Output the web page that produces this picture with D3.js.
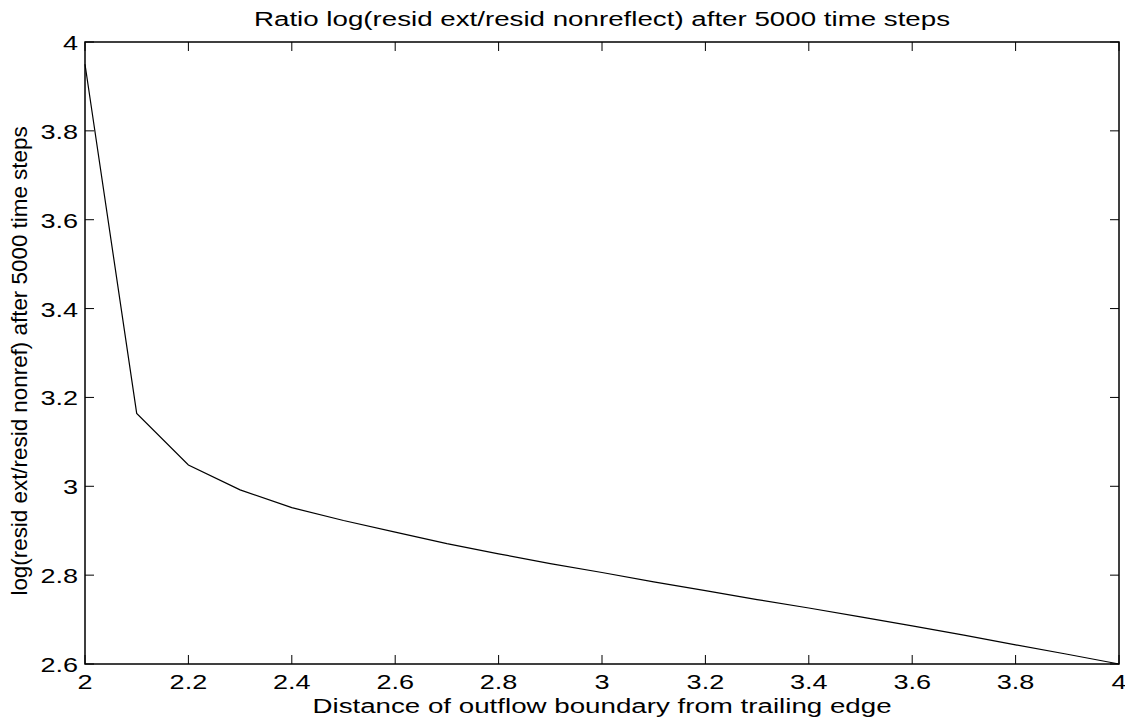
<!DOCTYPE html>
<html lang="en">
<head>
<meta charset="UTF-8">
<title>Ratio log</title>
<script src="https://d3js.org/d3.v7.min.js"></script>
<style>
  body { margin: 0; background: #fff; }
  text { font-family: "Liberation Sans", Arial, sans-serif; fill: #000; }
</style>
</head>
<body>
<script>
// data
const distance = [2.0, 2.1, 2.2, 2.3, 2.4, 2.5, 2.6, 2.7, 2.8, 2.9, 3.0, 3.1, 3.2, 3.3, 3.4, 3.5, 3.6, 3.7, 3.8, 3.9, 4.0];
const ratio = [3.95, 3.164, 3.048, 2.992, 2.952, 2.923, 2.897, 2.871, 2.848, 2.826, 2.806, 2.785, 2.765, 2.745, 2.726, 2.706, 2.686, 2.665, 2.643, 2.622, 2.6];
const xTicks = [2, 2.2, 2.4, 2.6, 2.8, 3, 3.2, 3.4, 3.6, 3.8, 4];
const yTicks = [2.6, 2.8, 3, 3.2, 3.4, 3.6, 3.8, 4];

const w = 1125, h = 719;
const pL = 85, pR = 1119, pT = 42, pB = 664;
const sx = 1.32; // the reference text is stretched sideways

const svg = d3.select('body').append('svg')
    .attr('width', w)
    .attr('height', h);

const x = d3.scaleLinear().domain([2, 4]).range([pL, pR]);
const y = d3.scaleLinear().domain([2.6, 4]).range([pB, pT]);

// ticks pointing inward, on all four sides
const tickLen = 9;
const g = svg.append('g').attr('stroke', '#000').attr('stroke-width', 1);
xTicks.forEach(t => {
    g.append('line').attr('x1', x(t)).attr('x2', x(t)).attr('y1', pB).attr('y2', pB - tickLen);
    g.append('line').attr('x1', x(t)).attr('x2', x(t)).attr('y1', pT).attr('y2', pT + tickLen);
});
yTicks.forEach(t => {
    g.append('line').attr('x1', pL).attr('x2', pL + tickLen).attr('y1', y(t)).attr('y2', y(t));
    g.append('line').attr('x1', pR).attr('x2', pR - tickLen).attr('y1', y(t)).attr('y2', y(t));
});

// frame
svg.append('rect')
    .attr('x', pL).attr('y', pT)
    .attr('width', pR - pL).attr('height', pB - pT)
    .attr('fill', 'none').attr('stroke', '#000').attr('stroke-width', 1.5);

// tick labels
svg.selectAll('.xl').data(xTicks).enter().append('text')
    .attr('transform', d => `translate(${x(d)}, ${pB + 25}) scale(${sx}, 1)`)
    .attr('text-anchor', 'middle')
    .style('font-size', '20.5px')
    .text(d => d3.format('~g')(d));
svg.selectAll('.yl').data(yTicks).enter().append('text')
    .attr('transform', d => `translate(${pL - 7}, ${y(d) + 8}) scale(${sx}, 1)`)
    .attr('text-anchor', 'end')
    .style('font-size', '20.5px')
    .text(d => d3.format('~g')(d));

// line
const line = d3.line().x((d, i) => x(distance[i])).y(d => y(d));
svg.append('path')
    .datum(ratio)
    .attr('d', line)
    .attr('fill', 'none')
    .attr('stroke', '#000')
    .attr('stroke-width', 1.2);

// titles
svg.append('text')
    .attr('transform', `translate(${(pL + pR) / 2}, 26) scale(${sx}, 1)`)
    .attr('text-anchor', 'middle')
    .style('font-size', '21px')
    .text('Ratio log(resid ext/resid nonreflect) after 5000 time steps');
svg.append('text')
    .attr('transform', `translate(${(pL + pR) / 2}, 713) scale(${sx}, 1)`)
    .attr('text-anchor', 'middle')
    .style('font-size', '21px')
    .text('Distance of outflow boundary from trailing edge');
svg.append('text')
    .attr('transform', 'translate(27, 361) rotate(-90)')
    .attr('text-anchor', 'middle')
    .style('font-size', '22.4px')
    .text('log(resid ext/resid nonref) after 5000 time steps');
</script>
</body>
</html>
